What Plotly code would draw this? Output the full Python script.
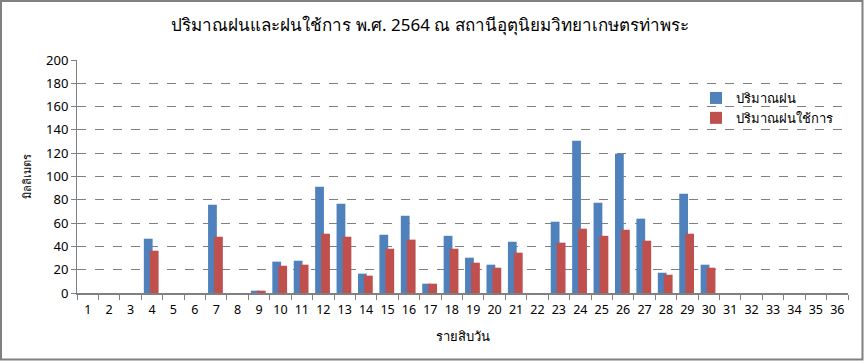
import plotly.graph_objects as go

periods = [str(i) for i in range(1, 37)]
rain = [0, 0, 0, 46.6, 0, 0, 75.8, 0, 2, 26.9, 27.7, 91.2, 76.7, 16.6, 50, 66.3, 8, 49.1,
        30.3, 24.3, 44, 0, 61.2, 130.7, 77.5, 119.6, 63.8, 17.4, 85.2, 24.3,
        0, 0, 0, 0, 0, 0]
eff_rain = [0, 0, 0, 36.3, 0, 0, 48.3, 0, 2, 23.4, 24.3, 50.9, 48.3, 14.9, 38, 45.8, 8, 38,
            26, 21.7, 34.6, 0, 43.2, 55.2, 49.1, 54.3, 44.9, 15.7, 50.9, 21.7,
            0, 0, 0, 0, 0, 0]
y_ticks = list(range(0, 201, 20))

title_text = "ปริมาณฝนและฝนใช้การ พ.ศ. 2564 ณ สถานีอุตุนิยมวิทยาเกษตรท่าพระ"
series_names = ["ปริมาณฝน", "ปริมาณฝนใช้การ"]
x_title = "รายสิบวัน"
y_title = "มิลลิเมตร"

FONT = "Tahoma, 'Noto Sans', 'DejaVu Sans', sans-serif"

fig = go.Figure()
fig.add_trace(go.Bar(x=periods, y=rain, name=series_names[0], marker_color="#4F81BD",
                     width=0.41, offset=-0.38, marker_line_width=0))
fig.add_trace(go.Bar(x=periods, y=eff_rain, name=series_names[1], marker_color="#C0504D",
                     width=0.41, offset=-0.10, marker_line_width=0))

L, R, T, B = 77, 16, 60, 68
W, H = 864, 361
pw, ph = W - L - R, H - T - B


def px_x(p):
    return (p - L) / pw


def px_y(p):
    return (H - B - p) / ph


fig.update_layout(
    width=W, height=H, barmode="overlay",
    margin=dict(l=L, r=R, t=T, b=B, autoexpand=False),
    paper_bgcolor="white", plot_bgcolor="white",
    font=dict(family=FONT, size=13, color="black"),
    title=dict(text=title_text, x=px_x(430), xref="paper", xanchor="center",
               y=1 - 25 / H, yanchor="middle", font=dict(size=17, family=FONT)),
    showlegend=True,
    legend=dict(x=px_x(696), y=px_y(83), xanchor="left", yanchor="top",
                bgcolor="rgba(0,0,0,0)", font=dict(size=13), itemwidth=30,
                tracegroupgap=2),
    xaxis=dict(type="category", tickson="boundaries", ticks="outside", ticklen=5,
               tickcolor="#808080", showline=True, linecolor="#808080", linewidth=2,
               showgrid=False, range=[-0.5, 35.5], tickfont=dict(size=12.5),
               tickangle=0, automargin=False, ticklabelstandoff=4,
               title=dict(text=x_title, font=dict(size=13), standoff=15)),
    yaxis=dict(range=[0, 200], tickvals=y_ticks, ticks="outside", ticklen=5,
               tickcolor="#808080", showline=True, linecolor="#808080", linewidth=1,
               showgrid=True, gridcolor="#808080", griddash="dash", gridwidth=1,
               zeroline=False, tickfont=dict(size=13), automargin=False,
               title=dict(text=y_title, font=dict(size=11), standoff=12)),
)

fig.add_shape(type="rect", xref="paper", yref="paper",
              x0=px_x(1), x1=px_x(W - 1.5),
              y0=px_y(H - 1.5), y1=px_y(1),
              line=dict(color="#808080", width=2), fillcolor="rgba(0,0,0,0)", layer="below")

fig.write_html("out.html", config={"displayModeBar": False},
               post_script="document.body.style.margin='0';document.body.style.overflow='hidden';")
